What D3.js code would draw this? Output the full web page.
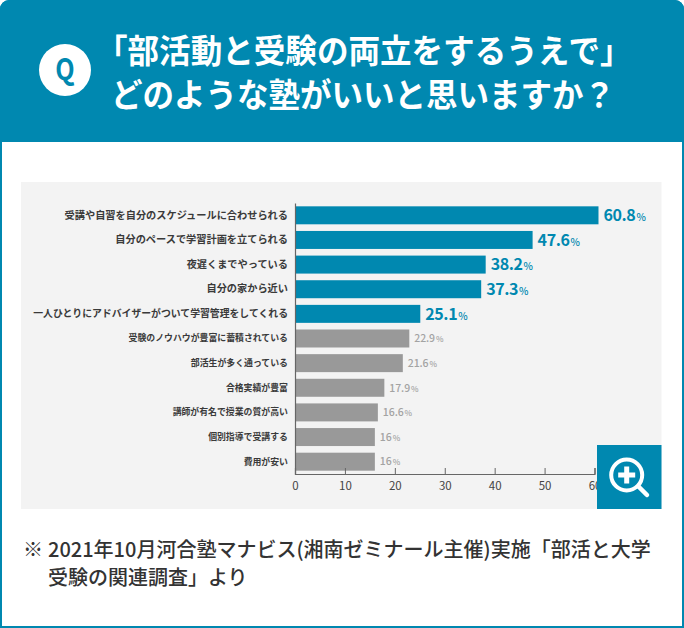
<!DOCTYPE html>
<html lang="ja">
<head>
<meta charset="utf-8">
<script src="https://cdn.jsdelivr.net/npm/d3@7"></script>
<style>
  html, body { margin: 0; padding: 0; background: #fff; }
  svg { display: block; }
  text { font-family: "Noto Sans CJK JP", "Noto Sans", sans-serif; }
</style>
</head>
<body>
<svg id="chart"></svg>
<script>
// ─── DATA ──────────────────────────────────────────────────────────────────
const categories = [
  "受講や自習を自分のスケジュールに合わせられる",
  "自分のペースで学習計画を立てられる",
  "夜遅くまでやっている",
  "自分の家から近い",
  "一人ひとりにアドバイザーがついて学習管理をしてくれる",
  "受験のノウハウが豊富に蓄積されている",
  "部活生が多く通っている",
  "合格実績が豊富",
  "講師が有名で授業の質が高い",
  "個別指導で受講する",
  "費用が安い",
];
const values = [60.8, 47.6, 38.2, 37.3, 25.1, 22.9, 21.6, 17.9, 16.6, 16, 16];
const highlightCount = 5;
const xTicks = [0, 10, 20, 30, 40, 50, 60];
const titleLines = ["「部活動と受験の両立をするうえで」", "どのような塾がいいと思いますか？"];
const noteLines = ["2021年10月河合塾マナビス(湘南ゼミナール主催)実施「部活と大学", "受験の関連調査」より"];

// ─── DIMENSIONS & SCALES ───────────────────────────────────────────────────
const width = 684,
  height = 628,
  teal = "#0088b0",
  gray = "#999999",
  titleAdvance = 31.5;

const svg = d3.select("#chart").attr("width", width).attr("height", height);

const x = d3.scaleLinear().domain([0, 60]).range([295, 594.5]);
const y = d3.scaleBand().domain(categories).range([203, 474]).paddingInner(0.27).paddingOuter(0.135);

// ─── FRAME & HEADER ────────────────────────────────────────────────────────
svg.append("path")
  .attr("d", "M1,142V9a8,8 0 0 1 8,-8H675a8,8 0 0 1 8,8V627H1Z")
  .attr("fill", "#fff")
  .attr("stroke", teal)
  .attr("stroke-width", 2);
svg.append("path")
  .attr("d", "M0,142V9a9,9 0 0 1 9,-9H675a9,9 0 0 1 9,9V142Z")
  .attr("fill", teal);

svg.append("circle").attr("cx", 65).attr("cy", 70).attr("r", 26).attr("fill", "#fff");
// tall narrow Q, squeezed to fit the reference glyph
svg.append("text")
  .attr("transform", "translate(65,80) scale(0.84,1)")
  .attr("text-anchor", "middle")
  .attr("font-size", 30).attr("font-weight", 700)
  .attr("fill", teal)
  .text("Q");

svg.append("g").selectAll("text")
  .data(titleLines)
  .join("text")
  .attr("x", (d, i) => (i === 0 ? 96 : 111))
  .attr("y", (d, i) => 62.5 + i * 44)
  .attr("font-size", 33).attr("font-weight", 700)
  .attr("textLength", (d) => d.length * titleAdvance)
  .attr("lengthAdjust", "spacingAndGlyphs")
  .attr("fill", "#fff")
  .text((d) => d);

// ─── PLOT ──────────────────────────────────────────────────────────────────
svg.append("rect")
  .attr("x", 21).attr("y", 182).attr("width", 640.5).attr("height", 327)
  .attr("fill", "#f3f3f3");

svg.append("g").selectAll("rect")
  .data(values)
  .join("rect")
  .attr("x", x(0))
  .attr("y", (d, i) => y(categories[i]))
  .attr("width", (d) => x(d) - x(0))
  .attr("height", y.bandwidth())
  .attr("fill", (d, i) => (i < highlightCount ? teal : gray));

// axes
const xAxis = svg.append("g")
  .attr("transform", "translate(0,474)")
  .call(d3.axisBottom(x).tickValues(xTicks).tickSize(-6).tickPadding(5).tickFormat(d3.format("d")));
xAxis.selectAll("line").attr("stroke", "#666");
xAxis.select(".domain").attr("stroke", "#666").attr("stroke-width", 1.2);
xAxis.selectAll("text").attr("y", 6).attr("dy", "0.85em").attr("font-size", 11.5).attr("fill", "#444");

const yAxis = svg.append("g")
  .attr("transform", `translate(${x(0)},0)`)
  .call(d3.axisLeft(y).tickSize(0).tickPadding(7));
yAxis.select(".domain").attr("stroke", "#666").attr("stroke-width", 1.2);
// the reference sets the lower labels smaller, and the long fifth one a touch tighter
yAxis.selectAll("text")
  .attr("font-size", (d, i) => (i < 4 ? 10.2 : i === 4 ? 9.85 : 8.9))
  .attr("font-weight", 700)
  .attr("fill", "#3a3a3a");

// value labels
const labels = svg.append("g").selectAll("text")
  .data(values)
  .join("text")
  .attr("x", (d) => x(d) + 5)
  .attr("y", (d, i) => y(categories[i]) + y.bandwidth() / 2)
  .attr("dy", "0.36em")
  .attr("font-weight", (d, i) => (i < highlightCount ? 700 : 500))
  .attr("fill", (d, i) => (i < highlightCount ? teal : "#a3a3a3"))
  .attr("font-size", (d, i) => (i < highlightCount ? 16 : 10.5))
  .attr("letter-spacing", (d, i) => (i < highlightCount ? -0.4 : -0.1));
labels.append("tspan").text((d) => d);
labels.append("tspan")
  .attr("dx", 1)
  .attr("font-size", (d, i) => (i < highlightCount ? 10 : 8))
  .attr("font-weight", 500)
  .text("%");

// ─── MAGNIFIER BADGE ───────────────────────────────────────────────────────
const badge = svg.append("g").attr("transform", "translate(597,445)");
badge.append("rect").attr("width", 64.5).attr("height", 64).attr("fill", teal);
badge.append("circle")
  .attr("cx", 29.7).attr("cy", 30).attr("r", 15.5)
  .attr("fill", "none").attr("stroke", "#fff").attr("stroke-width", 4);
badge.append("path")
  .attr("d", "M41.5,41.5L50,50")
  .attr("stroke", "#fff").attr("stroke-width", 4.5).attr("stroke-linecap", "round");
badge.append("path")
  .attr("d", "M29.7,21.5V38.5M21.2,30H38.2")
  .attr("stroke", "#fff").attr("stroke-width", 5);

// ─── NOTE ──────────────────────────────────────────────────────────────────
svg.append("text")
  .attr("x", 23).attr("y", 557)
  .attr("font-size", 20).attr("font-weight", 500).attr("fill", "#333")
  .text("※");
svg.append("g").selectAll("text")
  .data(noteLines)
  .join("text")
  .attr("x", 48)
  .attr("y", (d, i) => 557 + i * 28)
  .attr("font-size", 20).attr("font-weight", 500)
  .attr("fill", "#333")
  .text((d) => d);
</script>
</body>
</html>
